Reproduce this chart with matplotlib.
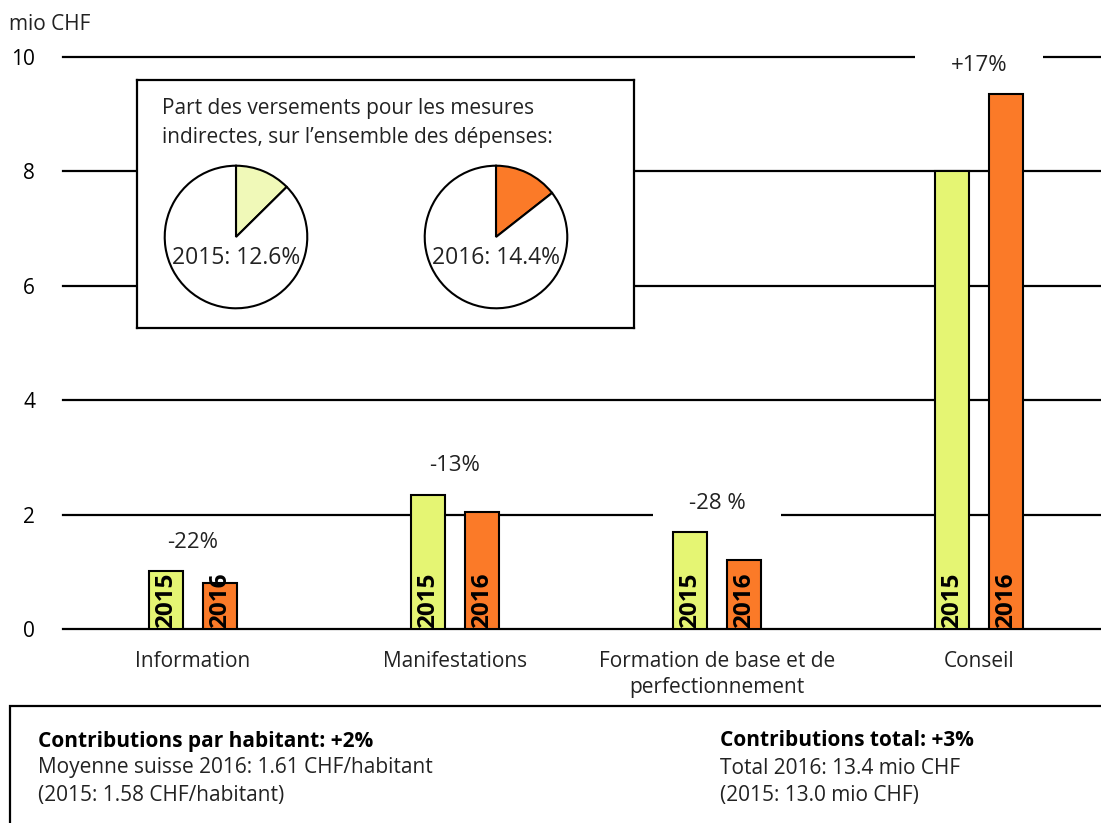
import matplotlib.pyplot as plt
from matplotlib.patches import Rectangle

plt.rcParams['font.family'] = ['Open Sans', 'DejaVu Sans']

categories = ["Information", "Manifestations", "Formation de base et de\nperfectionnement", "Conseil"]
v2015 = [1.02, 2.35, 1.70, 8.0]
v2016 = [0.80, 2.04, 1.20, 9.35]
changes = ["-22%", "-13%", "-28 %", "+17%"]
years = ["2015", "2016"]
pie_shares = [12.6, 14.4]

c2015 = "#e5f573"
c2016 = "#fb7a28"
pie2015 = "#f0f9b8"
txt = "#222222"
fs = 15

W, H = 1101, 823
fig = plt.figure(figsize=(W / 100, H / 100), dpi=100)

def px(x0, y0, x1, y1):
    # pixel box (top-left origin) -> figure fraction
    return [x0 / W, 1 - y1 / H, (x1 - x0) / W, (y1 - y0) / H]

ax = fig.add_axes(px(63, 57, 1101, 629))
ax.set_xlim(-0.496, 3.466)
ax.set_ylim(0, 10)
for s in ax.spines.values():
    s.set_visible(False)
for yv in [0, 2, 4, 6, 8, 10]:
    ax.axhline(yv, color="black", lw=1.6, zorder=1, clip_on=False)

xs = list(range(len(categories)))
off, bw = 0.103, 0.13
b1 = ax.bar([x - off for x in xs], v2015, bw, color=c2015, edgecolor="black", lw=1.5, zorder=3)
b2 = ax.bar([x + off for x in xs], v2016, bw, color=c2016, edgecolor="black", lw=1.5, zorder=3)
for bars, yr in [(b1, years[0]), (b2, years[1])]:
    for b in bars:
        ax.text(b.get_x() + b.get_width() / 2, 0.02, yr, rotation=90, ha="center", va="bottom",
                fontsize=17.5, fontweight="bold", zorder=4)

# change labels, white gap cut into the gridlines
for x, a, b, ch in zip(xs, v2015, v2016, changes):
    yl = max(a, b) + 0.5
    ax.add_patch(Rectangle((x - 0.243, yl - 0.3), 0.486, 0.6, facecolor="white", edgecolor="none",
                           zorder=2, clip_on=False))
    ax.text(x, yl, ch, ha="center", va="center", fontsize=16, color=txt, zorder=5)

ax.set_yticks([0, 2, 4, 6, 8, 10])
ax.set_yticklabels(["0", "2", "4", "6", "8", "10"], fontsize=fs)
ax.set_xticks(xs)
ax.set_xticklabels(categories, fontsize=fs, linespacing=1.3, color=txt)
ax.tick_params(axis="y", length=0, pad=20)
ax.tick_params(axis="x", length=0, pad=16)
fig.text(9 / W, 1 - 25 / H, "mio CHF", fontsize=fs, va="center", ha="left", color=txt)

# inset box with pies
box = fig.add_axes(px(137, 80, 634, 328))
box.set_xticks([])
box.set_yticks([])
box.set_facecolor("white")
for s in box.spines.values():
    s.set_linewidth(1.6)
box.text(25 / 497, 1 - 43 / 248, "Part des versements pour les mesures\nindirectes, sur l\u2019ensemble des dépenses:",
         transform=box.transAxes, fontsize=fs, va="center", ha="left", linespacing=1.5, color=txt)

for (cx, col, yr, share) in [(236, pie2015, years[0], pie_shares[0]), (496, c2016, years[1], pie_shares[1])]:
    pa = fig.add_axes(px(cx - 72, 237 - 72, cx + 72, 237 + 72))
    pa.pie([share, 100 - share], colors=[col, "white"], startangle=90, counterclock=False,
           wedgeprops=dict(edgecolor="black", linewidth=1.5))
    pa.set_xlim(-1.01, 1.01)
    pa.set_ylim(-1.01, 1.01)
    pa.set_aspect("equal")
    pa.text(0, -0.29, f"{yr}: {share}%", ha="center", va="center", fontsize=16.5, color=txt)

# bottom summary box
fig.patches.append(Rectangle((10 / W, -0.1), 1.1, 1 - 706 / H + 0.1, transform=fig.transFigure,
                             facecolor="white", edgecolor="black", lw=1.6))
fig.text(38 / W, 1 - 741 / H, "Contributions par habitant: +2%", fontsize=fs, fontweight="bold", va="center")
fig.text(38 / W, 1 - 768 / H, "Moyenne suisse 2016: 1.61 CHF/habitant", fontsize=fs, va="center", color=txt)
fig.text(38 / W, 1 - 796 / H, "(2015: 1.58 CHF/habitant)", fontsize=fs, va="center", color=txt)
fig.text(720 / W, 1 - 741 / H, "Contributions total: +3%", fontsize=fs, fontweight="bold", va="center")
fig.text(720 / W, 1 - 768 / H, "Total 2016: 13.4 mio CHF", fontsize=fs, va="center", color=txt)
fig.text(720 / W, 1 - 796 / H, "(2015: 13.0 mio CHF)", fontsize=fs, va="center", color=txt)

fig.savefig("out.png", dpi=100)
